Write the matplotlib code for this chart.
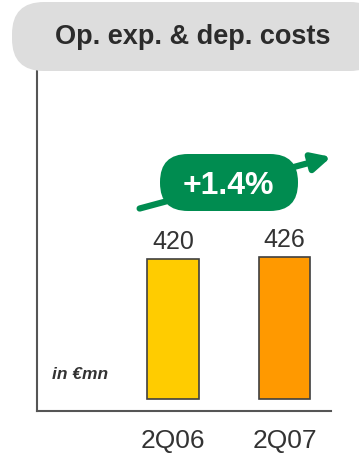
import matplotlib.pyplot as plt
from matplotlib.patches import FancyBboxPatch

periods = ['2Q06', '2Q07']
costs = [420, 426]
bar_colors = ['#FFCC00', '#FF9900']
growth_label = '+1.4%'

plt.rcParams['font.family'] = ['Liberation Sans', 'DejaVu Sans']

fig = plt.figure(figsize=(3.59, 4.6), dpi=100)
ax = fig.add_axes([0.103, 0.104, 0.819, 0.739])

x = range(len(periods))
bars = ax.bar(x, costs, width=0.466, color=bar_colors, edgecolor='#404040', linewidth=1.2)
for b, v in zip(bars, costs):
    ax.text(b.get_x() + b.get_width() / 2, v + 20, str(v), ha='center', va='bottom',
            fontsize=18, color='#333333')

ax.set_xlim(-1.22, 1.417)
ax.set_ylim(-36, 984)
ax.set_xticks(list(x))
ax.set_xticklabels(periods, fontsize=19, color='#333333')
ax.tick_params(axis='x', length=0, pad=12)
ax.set_yticks([])
for s in ['top', 'right']:
    ax.spines[s].set_visible(False)
for s in ['left', 'bottom']:
    ax.spines[s].set_color('#555555')
    ax.spines[s].set_linewidth(1.5)

ax.text(0.05, 0.11, 'in €mn', transform=ax.transAxes, fontsize=12.5, fontweight='bold',
        style='italic', color='#333333', va='center')

# growth arrow
ax.annotate('', xy=(1.01, 0.75), xytext=(0.34, 0.594), xycoords='axes fraction',
            arrowprops=dict(arrowstyle='-|>,head_length=1.1,head_width=0.55',
                            color='#008C50', lw=4.5), annotation_clip=False)
pill = FancyBboxPatch((1.60, 2.48), 1.38, 0.57, boxstyle='round,pad=0,rounding_size=0.28',
                      transform=fig.dpi_scale_trans, facecolor='#008C50', edgecolor='none')
fig.patches.append(pill)
fig.text(2.28 / 3.59, (4.6 - 1.86) / 4.6, growth_label, ha='center', va='center',
         fontsize=23, fontweight='bold', color='white')

# title banner
banner = FancyBboxPatch((0.12, 3.88), 3.7, 0.69, boxstyle='round,pad=0,rounding_size=0.32',
                        transform=fig.dpi_scale_trans, facecolor='#DDDDDD', edgecolor='none')
fig.patches.append(banner)
fig.text(1.93 / 3.59, (4.6 - 0.365) / 4.6, 'Op. exp. & dep. costs', ha='center', va='center',
         fontsize=19.5, fontweight='bold', color='#2B2B2B')

fig.savefig('out.png', dpi=100)
